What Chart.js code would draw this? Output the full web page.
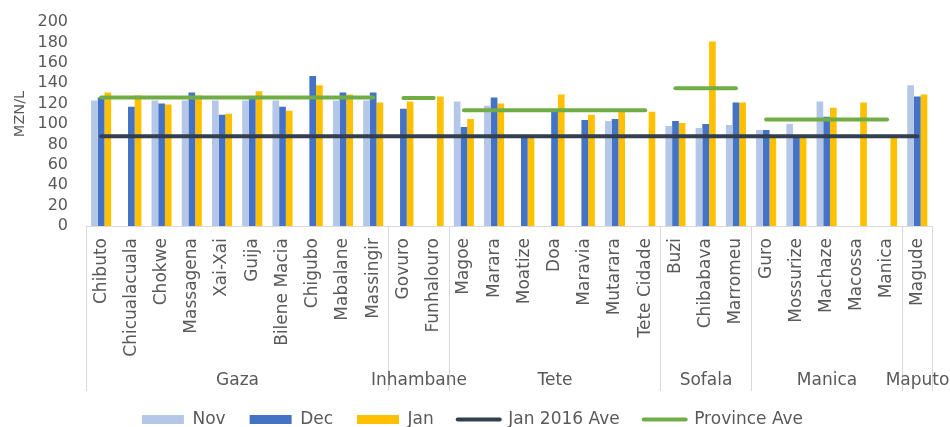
<!DOCTYPE html>
<html>
<head>
<meta charset="utf-8">
<script src="https://cdn.jsdelivr.net/npm/chart.js@4/dist/chart.umd.min.js"></script>
<style>
  html, body { margin: 0; padding: 0; background: #ffffff; }
  #wrap { width: 950px; height: 427px; }
</style>
</head>
<body>
<div id="wrap"><canvas id="c" width="950" height="427"></canvas></div>
<script>
// ---- data ----
const districts = ['Chibuto','Chicualacuala','Chokwe','Massagena','Xai-Xai','Guija','Bilene Macia','Chigubo','Mabalane','Massingir',
  'Govuro','Funhalouro',
  'Magoe','Marara','Moatize','Doa','Maravia','Mutarara','Tete Cidade',
  'Buzi','Chibabava','Marromeu',
  'Guro','Mossurize','Machaze','Macossa','Manica',
  'Magude'];
const districtProvince = ['Gaza','Gaza','Gaza','Gaza','Gaza','Gaza','Gaza','Gaza','Gaza','Gaza',
  'Inhambane','Inhambane',
  'Tete','Tete','Tete','Tete','Tete','Tete','Tete',
  'Sofala','Sofala','Sofala',
  'Manica','Manica','Manica','Manica','Manica',
  'Maputo'];
const novValues = [123, null, 123, 123, 123, 123, 123, null, 123, 123,
  null, null,
  122, 118, null, null, null, 103, null,
  98, 96, 99,
  94, 100, 122, null, null,
  138];
const decValues = [126, 117, 120, 131, 109, 126, 117, 147, 131, 131,
  115, null,
  97, 126, 89, 113, 104, 105, null,
  103, 100, 121,
  94, 88, 107, null, null,
  127];
const janValues = [131, 128, 119, 128, 110, 132, 113, 138, 129, 121,
  122, 127,
  105, 120, 88, 129, 109, 113, 112,
  101, 181, 121,
  88, 88, 116, 121, 88,
  129];
const jan2016Ave = [88, 88, 88, 88, 88, 88, 88, 88, 88, 88,
  88, 88,
  88, 88, 88, 88, 88, 88, 88,
  88, 88, 88,
  88, 88, 88, 88, 88,
  88];
const provinceAve = [126, 126, 126, 126, 126, 126, 126, 126, 126, 126,
  125.5, 125.5,
  113.5, 113.5, 113.5, 113.5, 113.5, 113.5, 113.5,
  135, 135, 135,
  104.5, 104.5, 104.5, 104.5, 104.5,
  129];
const yTicks = [0, 20, 40, 60, 80, 100, 120, 140, 160, 180, 200];
const yTitle = 'MZN/L';

// ---- chart ----
const FONT = "'DejaVu Sans', Verdana, sans-serif";
const TXT = '#595959';
const GRID = '#d9d9d9';

const provinceLabels = {
  id: 'provinceLabels',
  afterDraw(chart) {
    const x = chart.scales.x;
    const ctx = chart.ctx;
    const step = x.getPixelForValue(1) - x.getPixelForValue(0);
    const top = chart.chartArea.bottom;
    const bottom = 391;
    const groups = [];
    districtProvince.forEach((p, i) => {
      const g = groups[groups.length - 1];
      if (g && g.name === p) g.last = i; else groups.push({name: p, first: i, last: i});
    });
    ctx.save();
    ctx.strokeStyle = GRID;
    ctx.lineWidth = 1;
    groups.forEach((g, k) => {
      const l = Math.round(x.getPixelForValue(g.first) - step / 2) + 0.5;
      const r = Math.round(x.getPixelForValue(g.last) + step / 2) + 0.5;
      ctx.beginPath(); ctx.moveTo(l, top); ctx.lineTo(l, bottom); ctx.stroke();
      if (k === groups.length - 1) { ctx.beginPath(); ctx.moveTo(r, top); ctx.lineTo(r, bottom); ctx.stroke(); }
      ctx.fillStyle = TXT;
      ctx.font = '17px ' + FONT;
      ctx.textAlign = 'center';
      ctx.textBaseline = 'middle';
      ctx.fillText(g.name, (l + r) / 2, 381);
    });
    // y axis title
    ctx.translate(20, 114);
    ctx.rotate(-Math.PI / 2);
    ctx.font = '14.5px ' + FONT;
    ctx.textAlign = 'center';
    ctx.textBaseline = 'middle';
    ctx.fillText(yTitle, 0, 0);
    ctx.restore();
  }
};

Chart.defaults.font.family = FONT;
Chart.defaults.color = TXT;

new Chart(document.getElementById('c'), {
  type: 'bar',
  data: {
    labels: districts,
    datasets: [
      { label: 'Nov', data: novValues, backgroundColor: '#B4C7E7', order: 1,
        categoryPercentage: 0.665, barPercentage: 1.0 },
      { label: 'Dec', data: decValues, backgroundColor: '#4472C4', order: 1,
        categoryPercentage: 0.665, barPercentage: 1.0 },
      { label: 'Jan', data: janValues, backgroundColor: '#FFC000', order: 1,
        categoryPercentage: 0.665, barPercentage: 1.0 },
      { type: 'line', label: 'Jan 2016 Ave', data: jan2016Ave, borderColor: '#333F50',
        backgroundColor: '#333F50', borderWidth: 4, pointRadius: 0, borderCapStyle: 'round',
        fill: false, tension: 0, order: 0 },
      { type: 'line', label: 'Province Ave', data: provinceAve, borderColor: '#70AD47',
        backgroundColor: '#70AD47', borderWidth: 4, pointRadius: 0, borderCapStyle: 'round',
        fill: false, tension: 0, order: 0,
        segment: {
          borderColor: c => districtProvince[c.p0DataIndex] !== districtProvince[c.p1DataIndex] ? 'rgba(0,0,0,0)' : undefined
        } }
    ]
  },
  options: {
    responsive: false,
    animation: false,
    layout: { padding: { top: 22, left: 12, right: 17, bottom: -11 } },
    plugins: {
      tooltip: { enabled: false },
      legend: {
        position: 'bottom',
        labels: {
          color: TXT,
          font: { size: 17, family: FONT },
          usePointStyle: true,
          pointStyleWidth: 42,
          boxHeight: 9,
          padding: 24,
          generateLabels: chart => chart.data.datasets.map((ds, i) => {
            const isLine = ds.type === 'line';
            return {
              text: ds.label,
              datasetIndex: i,
              fillStyle: isLine ? ds.borderColor : ds.backgroundColor,
              strokeStyle: isLine ? ds.borderColor : ds.backgroundColor,
              lineWidth: isLine ? 4 : 0,
              lineCap: 'round',
              pointStyle: isLine ? 'line' : 'rect',
              fontColor: TXT,
              hidden: false
            };
          })
        }
      }
    },
    scales: {
      x: {
        grid: { display: false, drawTicks: false },
        border: { display: true, color: GRID, width: 1 },
        ticks: { color: TXT, font: { size: 17 }, minRotation: 90, maxRotation: 90, autoSkip: false, padding: 12 },
        afterFit: s => { s.height = 161; }
      },
      y: {
        min: 0, max: 200,
        grid: { display: false, drawTicks: false },
        border: { display: false },
        afterBuildTicks: s => { s.ticks = yTicks.map(v => ({ value: v })); },
        ticks: { color: TXT, font: { size: 16 }, padding: 18, autoSkip: false },
        afterFit: s => { s.width = 74; s.paddingTop = 8; s.paddingBottom = 8; }
      }
    }
  },
  plugins: [provinceLabels]
});
</script>
</body>
</html>
